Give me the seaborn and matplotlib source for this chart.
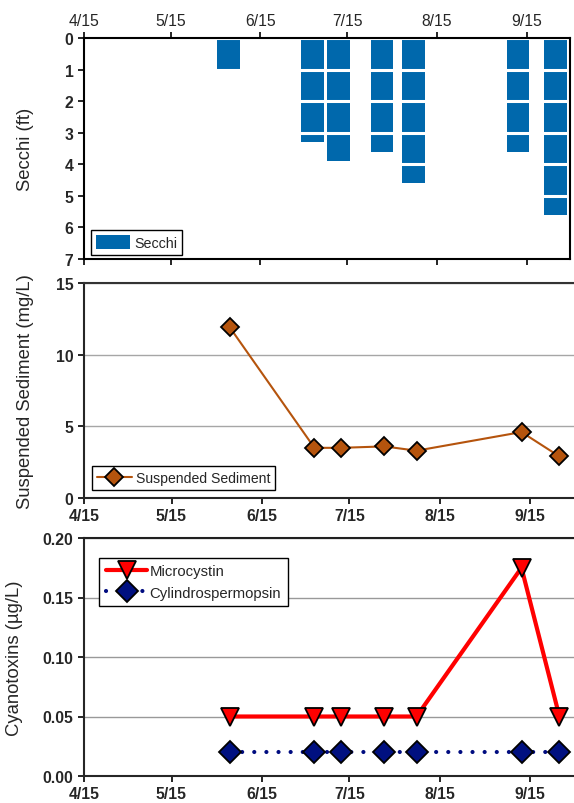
import matplotlib
matplotlib.use("Agg")
import matplotlib.pyplot as plt
import matplotlib.dates as mdates
import pandas as pd
import seaborn as sns

# Sampling season data
YEAR = 2021
sample_dates = ["6/4", "7/3", "7/12", "7/27", "8/7", "9/12", "9/25"]
secchi_ft = [1.0, 3.3, 3.9, 3.6, 4.6, 3.6, 5.6]
sediment_mgL = [11.9, 3.5, 3.5, 3.6, 3.3, 4.6, 2.9]
microcystin_ugL = [0.05, 0.05, 0.05, 0.05, 0.05, 0.175, 0.05]
cylindro_ugL = [0.02, 0.02, 0.02, 0.02, 0.02, 0.02, 0.02]
tick_labels = ["4/15", "5/15", "6/15", "7/15", "8/15", "9/15"]
x_start, x_end = "4/15", "9/30"


def to_num(md):
    return mdates.date2num(pd.to_datetime([f"{YEAR}/{d}" for d in md]))


x = to_num(sample_dates)
ticks = to_num(tick_labels)
xlim = to_num([x_start, x_end])

sns.set_style("ticks")
plt.rcParams["font.family"] = ["Liberation Sans", "DejaVu Sans"]
plt.rcParams["axes.linewidth"] = 1.5

fig = plt.figure(figsize=(5.74, 8.04), dpi=100)
L = 84 / 574
ax1 = fig.add_axes([L, 1 - 260 / 804, 570 / 574 - L, (260 - 39) / 804])
ax2 = fig.add_axes([L, 1 - 499 / 804, 1.0 - L, (499 - 284) / 804])
ax3 = fig.add_axes([L, 1 - 777 / 804, 1.0 - L, (777 - 539) / 804])

TICK_FS = 11.3
LABEL_FS = 13.3


def style_ticks(ax, bold_x=True):
    ax.tick_params(axis="both", labelsize=TICK_FS, length=4, width=1.2,
                   color="black", direction="out")
    for lbl in ax.get_yticklabels():
        lbl.set_fontweight("bold")
    if bold_x:
        for lbl in ax.get_xticklabels():
            lbl.set_fontweight("bold")


def legend_box(ax, loc, anchor, **kw):
    leg = ax.legend(loc=loc, bbox_to_anchor=anchor, frameon=True,
                    fancybox=False, framealpha=1, edgecolor="black",
                    borderaxespad=0, **kw)
    leg.get_frame().set_linewidth(1.0)
    return leg


# --- Secchi depth (bars hanging from the surface) ---
sns.barplot(x=x, y=secchi_ft, native_scale=True, width=0.87,
            color="#0068AC", saturation=1, edgecolor="none",
            label="Secchi", ax=ax1)
ax1.set_ylim(7, 0)
ax1.set_yticks(range(0, 8))
ax1.set_xlim(*xlim)
ax1.set_xticks(ticks)
ax1.set_xticklabels(tick_labels)
ax1.xaxis.tick_top()
ax1.tick_params(axis="x", top=True, bottom=True, labeltop=True,
                labelbottom=False)
ax1.set_axisbelow(False)
ax1.yaxis.grid(True, color="white", lw=2.2)
ax1.xaxis.grid(False)
ax1.set_xlabel("")
ax1.set_ylabel("Secchi (ft)", fontsize=LABEL_FS)
ax1.yaxis.set_label_coords(-0.103, 0.5)
style_ticks(ax1, bold_x=False)
ax1.tick_params(axis="x", which="both", top=True, bottom=True)
for s in ax1.spines.values():
    s.set_visible(True)
    s.set_color("black")
    s.set_linewidth(1.5)
    s.set_zorder(3)
legend_box(ax1, "lower left", (0.014, 0.018), fontsize=10.3,
           borderpad=0.35, handletextpad=0.3, handlelength=2.4,
           handleheight=1.1)

# --- Suspended sediment ---
sns.lineplot(x=x, y=sediment_mgL, ax=ax2, color="#B5540D", lw=1.5,
             marker="D", markersize=9.5, markerfacecolor="#B5540D",
             markeredgecolor="black", markeredgewidth=1.3,
             label="Suspended Sediment")
ax2.set_ylim(0, 15)
ax2.set_yticks([0, 5, 10, 15])
ax2.set_xlim(*xlim)
ax2.set_xticks(ticks)
ax2.set_xticklabels(tick_labels)
ax2.yaxis.grid(True, color="#A6A6A6", lw=1.0)
ax2.set_axisbelow(True)
ax2.set_ylabel("Suspended Sediment (mg/L)", fontsize=LABEL_FS)
ax2.yaxis.set_label_coords(-0.102, 0.5)
ax2.set_xlabel("")
style_ticks(ax2)
ax2.spines["right"].set_visible(False)
ax2.spines["top"].set_visible(True)
ax2.spines["top"].set_color("#333333")
legend_box(ax2, "lower left", (0.016, 0.037), fontsize=10.1,
           borderpad=0.35, handletextpad=0.3, handlelength=2.5)

# --- Cyanotoxins ---
sns.lineplot(x=x, y=microcystin_ugL, ax=ax3, color="#FF0000", lw=3,
             marker="v", markersize=13.5, markerfacecolor="#FF0000",
             markeredgecolor="black", markeredgewidth=1.3,
             label="Microcystin")
sns.lineplot(x=x, y=cylindro_ugL, ax=ax3, color="#000C80", lw=3,
             linestyle=(0, (0.01, 2.9)), dash_capstyle="round",
             marker="D", markersize=11.5, markerfacecolor="#001080",
             markeredgecolor="black", markeredgewidth=1.3,
             label="Cylindrospermopsin")
ax3.set_ylim(0, 0.20)
ax3.set_yticks([0, 0.05, 0.10, 0.15, 0.20])
ax3.set_yticklabels([f"{v:.2f}" for v in [0, 0.05, 0.10, 0.15, 0.20]])
ax3.set_xlim(*xlim)
ax3.set_xticks(ticks)
ax3.set_xticklabels(tick_labels)
ax3.yaxis.grid(True, color="#999999", lw=1.0)
ax3.set_axisbelow(True)
ax3.set_ylabel("Cyanotoxins (µg/L)", fontsize=LABEL_FS)
ax3.yaxis.set_label_coords(-0.124, 0.5)
ax3.set_xlabel("")
style_ticks(ax3)
ax3.spines["right"].set_visible(False)
ax3.spines["top"].set_visible(True)
ax3.spines["top"].set_color("#202020")
legend_box(ax3, "upper left", (0.031, 0.918), fontsize=10.7,
           borderpad=0.45, labelspacing=0.5, handletextpad=0.15,
           handlelength=2.8)

fig.savefig("out.png", dpi=100)
